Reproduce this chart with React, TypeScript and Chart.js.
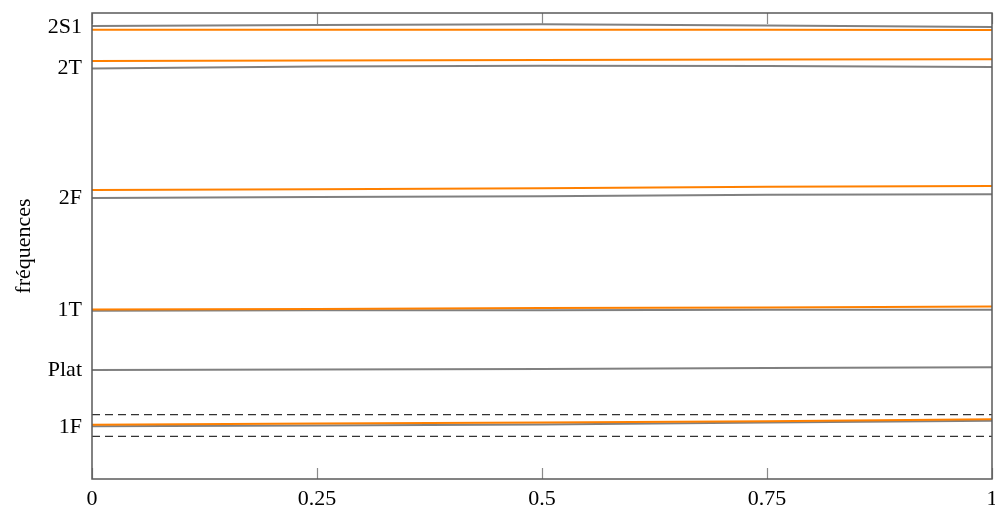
import React, { useEffect, useRef } from "react";
import { Chart, registerables } from "chart.js";

Chart.register(...registerables);

const xValues = [0, 0.25, 0.5, 0.75, 1];
const xTickValues = [0, 0.25, 0.5, 0.75, 1];
const xTickLabels = ["0", "0.25", "0.5", "0.75", "1"];

const modeLabels = ["1F", "Plat", "1T", "2F", "2T", "2S1"];
const modeTickValues = [11.05, 23.4, 36.2, 60.3, 88.1, 97.0];

const gray1F = [11.3, 11.5, 11.7, 12.1, 12.5];
const grayPlat = [23.4, 23.5, 23.6, 23.8, 24.0];
const gray1T = [36.1, 36.2, 36.2, 36.3, 36.3];
const gray2F = [60.3, 60.5, 60.7, 61.0, 61.1];
const gray2T = [88.1, 88.5, 88.7, 88.6, 88.4];
const gray2S1 = [97.2, 97.4, 97.6, 97.3, 97.0];

const orange1F = [11.65, 11.9, 12.1, 12.4, 12.8];
const orange1T = [36.4, 36.5, 36.7, 36.8, 37.0];
const orange2F = [62.0, 62.2, 62.4, 62.7, 62.9];
const orange2T = [89.7, 89.8, 89.9, 90.0, 90.1];
const orange2S1 = [96.4, 96.4, 96.4, 96.4, 96.35];

const bandUpper = [13.8, 13.8];
const bandLower = [9.16, 9.16];
const bandX = [0, 1];

const yTitle = "fréquences";

const GRAY = "#808080";
const ORANGE = "#ff8000";
const FRAME = "#5a5a5a";
const FONT = "'Liberation Serif', 'Times New Roman', serif";

function pts(xs: number[], ys: number[]) {
  return xs.map((x, i) => ({ x, y: ys[i] }));
}

const framePlugin = {
  id: "frameAndInnerTicks",
  afterDatasetsDraw(chart: any) {
    const { ctx, chartArea } = chart;
    const xs = chart.scales.x;
    ctx.save();
    ctx.strokeStyle = "#8a8a8a";
    ctx.lineWidth = 1.2;
    const L = 11;
    xTickValues.forEach((v) => {
      const px = Math.round(xs.getPixelForValue(v)) + 0.5;
      ctx.beginPath();
      ctx.moveTo(px, chartArea.top);
      ctx.lineTo(px, chartArea.top + L);
      ctx.moveTo(px, chartArea.bottom);
      ctx.lineTo(px, chartArea.bottom - L);
      ctx.stroke();
    });
    ctx.strokeStyle = FRAME;
    ctx.lineWidth = 1.5;
    ctx.strokeRect(
      chartArea.left,
      chartArea.top,
      chartArea.right - chartArea.left,
      chartArea.bottom - chartArea.top
    );
    ctx.restore();
  },
};

export default function App() {
  const ref = useRef<HTMLCanvasElement | null>(null);

  useEffect(() => {
    if (!ref.current) return;
    const line = (data: number[], color: string) => ({
      data: pts(xValues, data),
      borderColor: color,
      backgroundColor: color,
      borderWidth: 2,
      pointRadius: 0,
      tension: 0,
      fill: false,
    });
    const dashed = (data: number[]) => ({
      data: pts(bandX, data),
      borderColor: "#333333",
      borderWidth: 1.2,
      borderDash: [8, 5],
      pointRadius: 0,
      fill: false,
    });
    const chart = new Chart(ref.current, {
      type: "line",
      data: {
        datasets: [
          line(orange1F, ORANGE),
          line(orange1T, ORANGE),
          line(orange2F, ORANGE),
          line(orange2T, ORANGE),
          line(orange2S1, ORANGE),
          line(gray1F, GRAY),
          line(grayPlat, GRAY),
          line(gray1T, GRAY),
          line(gray2F, GRAY),
          line(gray2T, GRAY),
          line(gray2S1, GRAY),
          dashed(bandUpper),
          dashed(bandLower),
        ] as any,
      },
      options: {
        animation: false,
        responsive: false,
        events: [],
        layout: { padding: { top: 13, right: 3, left: 0, bottom: 0 } },
        plugins: {
          legend: { display: false },
          tooltip: { enabled: false },
        },
        scales: {
          x: {
            type: "linear",
            min: 0,
            max: 1,
            grid: { display: false, drawTicks: false },
            border: { display: false },
            afterBuildTicks: (s: any) => {
              s.ticks = xTickValues.map((v) => ({ value: v }));
            },
            afterFit: (s: any) => {
              s.height = 26;
              s.paddingLeft = 0;
              s.paddingRight = 0;
            },
            ticks: {
              color: "#000",
              padding: 7,
              maxRotation: 0,
              autoSkip: false,
              font: { family: FONT, size: 22 },
              callback: (v: any) => {
                const i = xTickValues.indexOf(Number(v));
                return i >= 0 ? xTickLabels[i] : "";
              },
            },
          },
          y: {
            type: "linear",
            min: 0,
            max: 100,
            grid: { display: false, drawTicks: false },
            border: { display: false },
            afterBuildTicks: (s: any) => {
              s.ticks = modeTickValues.map((v) => ({ value: v }));
            },
            afterFit: (s: any) => {
              s.width = 92;
              s.paddingTop = 0;
              s.paddingBottom = 0;
            },
            title: {
              display: true,
              text: yTitle,
              color: "#000",
              font: { family: FONT, size: 22 },
              padding: 11,
            },
            ticks: {
              color: "#000",
              padding: 10,
              autoSkip: false,
              font: { family: FONT, size: 22 },
              callback: (v: any) => {
                const i = modeTickValues.indexOf(Number(v));
                return i >= 0 ? modeLabels[i] : "";
              },
            },
          },
        },
      } as any,
      plugins: [framePlugin],
    });
    return () => chart.destroy();
  }, []);

  return (
    <div style={{ position: "absolute", left: 0, top: 0, width: 995, height: 505, background: "#fff" }}>
      <canvas ref={ref} width={995} height={505} style={{ display: "block" }} />
    </div>
  );
}
